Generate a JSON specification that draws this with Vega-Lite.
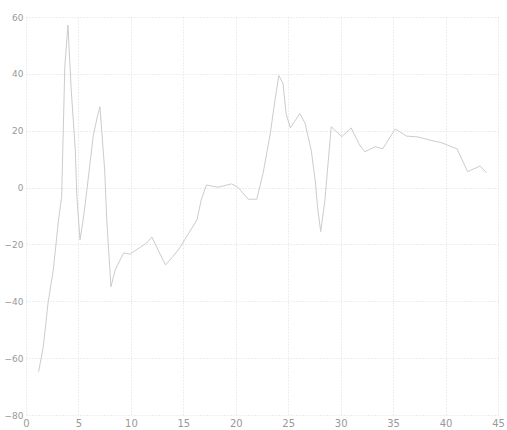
{
  "$schema": "https://vega.github.io/schema/vega-lite/v6.json",
  "autosize": "none",
  "padding": {"left": 26, "top": 17, "right": 9, "bottom": 15},
  "width": 472,
  "height": 398,
  "background": "white",
  "config": {"view": {"stroke": null}},
  "data": {"values": [
    {"x": 1.2, "y": -64.8},
    {"x": 1.65, "y": -56},
    {"x": 2.1, "y": -40.6},
    {"x": 2.6, "y": -29},
    {"x": 3.1, "y": -11.4},
    {"x": 3.4, "y": -3.2},
    {"x": 3.7, "y": 42.5},
    {"x": 4.0, "y": 57.2},
    {"x": 4.3, "y": 35},
    {"x": 4.7, "y": 13.2},
    {"x": 4.85, "y": -3.2},
    {"x": 5.15, "y": -18.4},
    {"x": 5.5, "y": -10},
    {"x": 5.8, "y": -1},
    {"x": 6.4, "y": 17.9},
    {"x": 6.8, "y": 25},
    {"x": 7.05, "y": 28.4},
    {"x": 7.5, "y": 6.2},
    {"x": 7.7, "y": -11.4},
    {"x": 8.1, "y": -34.9},
    {"x": 8.5, "y": -29},
    {"x": 9.3, "y": -23},
    {"x": 9.9, "y": -23.4},
    {"x": 10.4, "y": -22.2},
    {"x": 10.9, "y": -21},
    {"x": 11.5, "y": -19.5},
    {"x": 12.0, "y": -17.4},
    {"x": 12.6, "y": -22},
    {"x": 13.3, "y": -27.2},
    {"x": 14.0, "y": -24.3},
    {"x": 14.7, "y": -21},
    {"x": 15.3, "y": -17.3},
    {"x": 16.3, "y": -11.4},
    {"x": 16.7, "y": -4.4},
    {"x": 17.2, "y": 0.9},
    {"x": 18.3, "y": 0.1},
    {"x": 19.6, "y": 1.3},
    {"x": 20.2, "y": 0.1},
    {"x": 21.2, "y": -4.1},
    {"x": 22.0, "y": -4.1},
    {"x": 22.6, "y": 5},
    {"x": 23.3, "y": 19.2},
    {"x": 23.6, "y": 27.3},
    {"x": 24.1, "y": 39.4},
    {"x": 24.5, "y": 36.7},
    {"x": 24.8, "y": 26},
    {"x": 25.2, "y": 21},
    {"x": 26.1, "y": 26},
    {"x": 26.6, "y": 22.7},
    {"x": 27.2, "y": 13},
    {"x": 27.6, "y": 1.6},
    {"x": 27.8, "y": -7},
    {"x": 28.1, "y": -15.5},
    {"x": 28.5, "y": -4.4},
    {"x": 28.8, "y": 8.6},
    {"x": 29.1, "y": 21.4},
    {"x": 30.1, "y": 17.9},
    {"x": 31.0, "y": 21},
    {"x": 31.8, "y": 15},
    {"x": 32.3, "y": 12.6},
    {"x": 33.3, "y": 14.4},
    {"x": 34.0, "y": 13.6},
    {"x": 35.2, "y": 20.6},
    {"x": 36.3, "y": 18.1},
    {"x": 37.4, "y": 17.8},
    {"x": 38.5, "y": 16.7},
    {"x": 39.6, "y": 15.8},
    {"x": 41.1, "y": 13.6},
    {"x": 42.1, "y": 5.6},
    {"x": 43.3, "y": 7.6},
    {"x": 43.9, "y": 5.2}
  ]},
  "mark": {"type": "line", "color": "#cccccc", "strokeWidth": 1},
  "encoding": {
    "x": {
      "field": "x", "type": "quantitative",
      "scale": {"domain": [0, 45], "nice": false, "zero": false},
      "axis": {
        "title": null, "values": [0, 5, 10, 15, 20, 25, 30, 35, 40, 45],
        "domain": false, "ticks": false,
        "grid": true, "gridColor": "#dddddd", "gridDash": [1, 2], "gridWidth": 1,
        "labelColor": "#999999", "labelFontSize": 10, "labelFont": "DejaVu Sans",
        "labelPadding": 3, "labelFlush": false
      }
    },
    "y": {
      "field": "y", "type": "quantitative",
      "scale": {"domain": [-80, 60], "nice": false, "zero": false},
      "axis": {
        "title": null, "values": [-80, -60, -40, -20, 0, 20, 40, 60],
        "domain": false, "ticks": false,
        "grid": true, "gridColor": "#dddddd", "gridDash": [1, 2], "gridWidth": 1,
        "labelColor": "#999999", "labelFontSize": 9, "labelFont": "DejaVu Sans",
        "labelPadding": 3, "labelFlush": false
      }
    }
  }
}
